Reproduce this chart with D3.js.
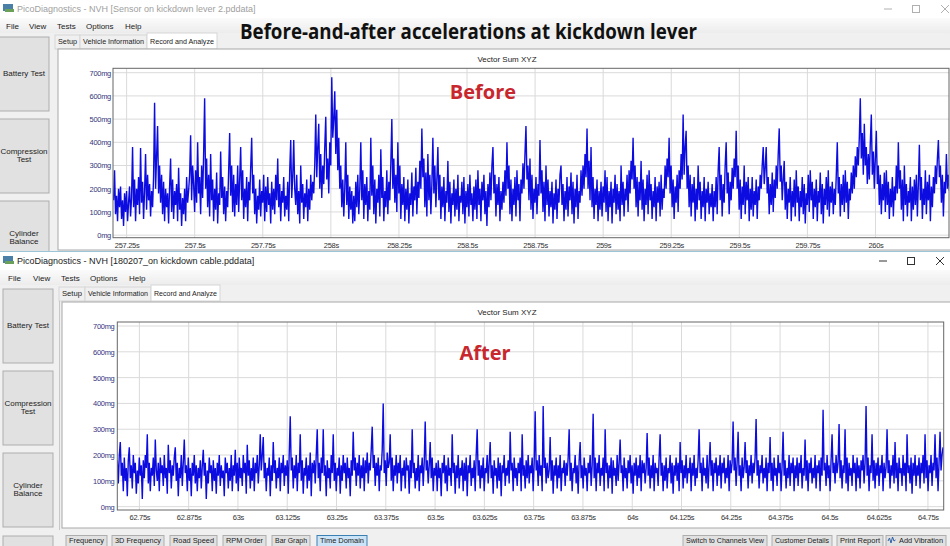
<!DOCTYPE html>
<html>
<head>
<meta charset="utf-8">
<script src="https://d3js.org/d3.v7.min.js"></script>
<style>
  body { margin: 0; background: #f0f0f0; }
  svg { display: block; font-family: "Liberation Sans", Arial, sans-serif; }
  .ui { font-size: 8px; fill: #222; }
  .axis path, .axis line { display: none; }
</style>
</head>
<body>
<script>

// ---- data -------------------------------------------------------------
var yTicks = [0, 100, 200, 300, 400, 500, 600, 700];

// "before" trace, one reading per screen pixel
var beforeTicks = [257.25, 257.5, 257.75, 258, 258.25, 258.5, 258.75, 259, 259.25, 259.5, 259.75, 260];
var beforeStart = 257.202;   // first sample time (s)
var beforeStep = 0.003676;   // sample spacing (s)
var beforeValues = [
  150, 280, 90, 170, 60, 200, 120, 210, 70, 150, 40, 180, 100, 190, 60, 140, 210, 80, 160, 380, 120, 240, 60, 200, 130, 250, 90, 375, 140, 230, 70, 190, 350, 110, 260, 150, 220, 80, 190, 120,
  250, 570, 200, 340, 470, 180, 300, 140, 260, 90, 230, 60, 200, 120, 180, 50, 210, 330, 100, 240, 70, 190, 130, 220, 60, 290, 110, 180, 40, 160, 90, 200, 60, 250, 140, 190, 260, 430, 150, 300,
  220, 100, 280, 140, 400, 180, 250, 90, 300, 160, 350, 590, 200, 330, 120, 260, 80, 350, 150, 240, 60, 200, 110, 270, 50, 180, 130, 360, 160, 250, 90, 210, 60, 190, 120, 280, 440, 170, 300, 100,
  260, 80, 220, 130, 300, 100, 240, 380, 150, 280, 70, 200, 120, 250, 60, 230, 150, 290, 420, 180, 260, 90, 200, 50, 170, 110, 240, 80, 190, 140, 260, 60, 210, 100, 250, 130, 180, 50, 230, 110,
  200, 90, 260, 150, 330, 120, 220, 60, 190, 140, 250, 80, 170, 110, 230, 60, 280, 410, 160, 250, 410, 200, 130, 260, 90, 190, 50, 300, 140, 220, 70, 180, 120, 240, 60, 200, 110, 260, 150, 230,
  180, 300, 520, 250, 380, 480, 200, 350, 160, 300, 220, 380, 510, 240, 330, 180, 400, 300, 680, 420, 500, 620, 350, 540, 280, 420, 200, 300, 120, 240, 80, 200, 400, 130, 260, 70, 210, 110, 190, 50,
  170, 60, 230, 120, 260, 90, 200, 400, 150, 280, 70, 220, 130, 250, 60, 190, 110, 420, 170, 300, 90, 240, 50, 200, 140, 260, 80, 370, 160, 250, 60, 190, 120, 280, 90, 230, 150, 310, 500, 200,
  330, 140, 260, 100, 400, 180, 300, 70, 220, 130, 250, 60, 200, 110, 240, 50, 180, 130, 270, 80, 210, 150, 290, 90, 230, 160, 320, 200, 460, 250, 330, 120, 270, 80, 350, 150, 260, 90, 220, 420,
  180, 300, 120, 240, 380, 150, 260, 70, 210, 120, 250, 60, 190, 140, 320, 100, 230, 50, 180, 130, 240, 80, 200, 110, 260, 60, 170, 140, 230, 90, 250, 50, 190, 120, 220, 80, 260, 130, 180, 60,
  210, 110, 240, 70, 280, 130, 200, 60, 230, 150, 260, 90, 190, 40, 220, 120, 270, 150, 300, 380, 180, 260, 80, 220, 130, 250, 60, 190, 110, 230, 140, 280, 170, 400, 200, 300, 90, 240, 60, 200,
  130, 250, 80, 280, 150, 220, 60, 240, 180, 310, 200, 350, 470, 240, 300, 150, 330, 110, 260, 70, 200, 140, 250, 90, 220, 170, 410, 180, 280, 100, 230, 60, 300, 130, 240, 80, 190, 120, 230, 50,
  180, 110, 240, 70, 200, 140, 260, 300, 130, 220, 60, 190, 110, 250, 80, 210, 150, 270, 90, 230, 50, 200, 120, 260, 70, 190, 140, 280, 170, 300, 200, 350, 250, 460, 200, 320, 150, 380, 120, 250,
  70, 200, 130, 240, 60, 190, 110, 230, 80, 210, 140, 280, 100, 250, 60, 190, 120, 230, 50, 200, 140, 260, 90, 220, 110, 190, 60, 300, 130, 230, 80, 200, 150, 260, 100, 280, 180, 320, 240, 420,
  200, 300, 120, 250, 80, 230, 150, 320, 110, 240, 60, 200, 130, 260, 90, 280, 150, 220, 70, 190, 120, 250, 60, 210, 140, 230, 80, 260, 110, 200, 160, 300, 200, 330, 250, 420, 180, 300, 120, 240,
  70, 210, 140, 260, 100, 280, 200, 350, 240, 520, 260, 380, 450, 200, 300, 120, 260, 80, 220, 140, 250, 60, 200, 110, 300, 150, 230, 70, 190, 120, 250, 60, 200, 140, 230, 90, 180, 120, 220, 60,
  190, 120, 250, 90, 280, 380, 150, 260, 80, 220, 140, 300, 400, 180, 270, 90, 230, 150, 290, 200, 330, 250, 450, 200, 300, 110, 240, 70, 210, 130, 300, 90, 230, 150, 250, 60, 200, 110, 250, 80,
  190, 130, 240, 70, 210, 150, 260, 200, 300, 380, 220, 290, 380, 180, 250, 90, 220, 130, 270, 100, 240, 160, 300, 200, 350, 460, 230, 300, 150, 240, 320, 110, 230, 70, 200, 140, 250, 60, 190, 120,
  240, 80, 280, 140, 210, 60, 190, 120, 250, 90, 220, 50, 180, 130, 260, 100, 280, 150, 230, 70, 200, 120, 240, 60, 190, 140, 270, 90, 220, 50, 200, 130, 250, 110, 280, 80, 210, 140, 230, 90,
  200, 130, 260, 400, 180, 250, 80, 220, 130, 260, 100, 280, 140, 230, 70, 200, 150, 270, 180, 300, 200, 340, 250, 380, 300, 420, 590, 330, 440, 260, 480, 300, 380, 220, 350, 240, 400, 520, 260, 360,
  200, 330, 450, 220, 300, 130, 260, 90, 220, 150, 270, 100, 280, 130, 230, 70, 200, 120, 250, 80, 210, 150, 300, 180, 400, 200, 280, 110, 240, 60, 300, 130, 220, 80, 190, 140, 250, 60, 210, 110,
  240, 130, 260, 80, 220, 390, 150, 250, 70, 200, 130, 280, 90, 230, 150, 260, 60, 210, 120, 250, 180, 300, 220, 330, 410, 250, 300, 140, 260, 80, 230, 180, 350, 200, 260, 190
];

// "after" trace, one reading per screen pixel
var afterTicks = [62.75, 62.875, 63, 63.125, 63.25, 63.375, 63.5, 63.625, 63.75, 63.875, 64, 64.125, 64.25, 64.375, 64.5, 64.625, 64.75];
var afterStart = 62.694;
var afterStep = 0.0025355;
var afterValues = [
  180, 90, 200, 250, 120, 170, 60, 190, 100, 150, 40, 180, 230, 110, 160, 70, 200, 130, 170, 50, 140, 90, 190, 120, 160, 30, 180, 110, 200, 150, 280, 90, 170, 60, 150, 120, 190, 80, 260, 140,
  100, 170, 60, 190, 130, 160, 80, 200, 110, 150, 50, 240, 130, 180, 70, 160, 120, 190, 230, 100, 170, 40, 150, 110, 200, 80, 170, 260, 130, 160, 60, 190, 100, 150, 40, 170, 120, 200, 90, 160,
  60, 150, 110, 180, 70, 160, 220, 120, 170, 30, 140, 90, 190, 130, 160, 60, 180, 100, 150, 50, 170, 120, 200, 80, 160, 110, 140, 40, 190, 130, 170, 70, 150, 100, 200, 60, 160, 120, 220, 90,
  170, 60, 190, 110, 150, 80, 200, 130, 170, 50, 240, 120, 180, 70, 150, 100, 190, 60, 170, 130, 200, 90, 160, 280, 140, 200, 270, 110, 170, 60, 150, 120, 190, 40, 160, 100, 250, 130, 180, 70,
  150, 110, 190, 60, 170, 130, 200, 80, 160, 120, 180, 50, 210, 350, 140, 190, 70, 160, 110, 200, 60, 170, 130, 280, 100, 180, 50, 150, 120, 190, 70, 160, 100, 210, 40, 170, 130, 180, 90, 200,
  300, 110, 170, 60, 190, 130, 300, 120, 160, 40, 180, 110, 150, 70, 200, 130, 280, 100, 170, 60, 150, 120, 190, 50, 160, 100, 200, 130, 170, 70, 190, 110, 150, 40, 180, 120, 290, 140, 190, 80,
  170, 120, 200, 70, 160, 110, 190, 60, 180, 130, 210, 90, 170, 140, 220, 310, 150, 200, 80, 170, 120, 190, 60, 160, 140, 220, 400, 130, 180, 80, 210, 150, 170, 280, 100, 190, 60, 160, 120, 200,
  90, 170, 130, 200, 60, 150, 120, 180, 70, 190, 140, 160, 50, 180, 110, 300, 130, 170, 70, 150, 100, 200, 60, 160, 130, 190, 80, 170, 330, 140, 180, 90, 160, 250, 110, 190, 60, 150, 120, 170,
  60, 180, 110, 150, 40, 170, 130, 200, 90, 160, 60, 190, 120, 150, 80, 280, 130, 170, 50, 160, 110, 200, 70, 150, 120, 180, 60, 170, 100, 190, 40, 160, 130, 200, 80, 150, 110, 180, 60, 200,
  300, 120, 180, 70, 160, 110, 190, 60, 150, 130, 200, 90, 170, 250, 110, 160, 50, 180, 120, 150, 70, 190, 100, 170, 40, 160, 130, 200, 80, 150, 120, 180, 90, 290, 140, 170, 60, 190, 110, 150,
  80, 170, 130, 190, 60, 280, 120, 160, 70, 180, 110, 200, 90, 160, 130, 190, 60, 170, 370, 140, 180, 80, 200, 120, 160, 60, 390, 150, 190, 90, 170, 110, 140, 270, 100, 180, 50, 160, 120, 190,
  70, 160, 110, 200, 60, 150, 130, 180, 80, 170, 120, 190, 300, 100, 170, 60, 150, 130, 200, 90, 160, 50, 180, 250, 110, 160, 70, 190, 120, 150, 60, 170, 130, 200, 80, 160, 360, 110, 190, 60,
  170, 130, 200, 80, 150, 120, 190, 60, 300, 130, 170, 70, 160, 110, 190, 50, 180, 120, 150, 80, 200, 100, 170, 260, 130, 160, 60, 190, 110, 150, 70, 180, 130, 200, 90, 160, 50, 170, 120, 190,
  80, 160, 110, 200, 60, 180, 130, 170, 90, 150, 285, 120, 190, 70, 160, 110, 200, 60, 170, 130, 150, 80, 190, 280, 120, 170, 60, 160, 100, 190, 70, 150, 130, 200, 90, 170, 50, 160, 120, 190,
  100, 170, 60, 250, 130, 180, 70, 160, 110, 200, 90, 150, 130, 190, 60, 170, 120, 200, 80, 150, 110, 180, 300, 130, 170, 60, 190, 120, 150, 90, 200, 70, 160, 250, 120, 180, 60, 170, 130, 190,
  80, 160, 120, 200, 70, 170, 130, 190, 90, 150, 110, 200, 60, 180, 130, 170, 330, 140, 190, 80, 170, 290, 120, 160, 60, 190, 110, 150, 250, 130, 180, 70, 160, 120, 200, 90, 170, 130, 190, 340,
  120, 180, 70, 160, 130, 200, 90, 150, 110, 190, 60, 170, 130, 270, 100, 170, 60, 190, 120, 150, 80, 200, 130, 170, 60, 160, 290, 120, 180, 70, 150, 110, 200, 80, 170, 130, 190, 60, 160, 110,
  190, 80, 170, 130, 200, 70, 150, 120, 260, 100, 180, 60, 170, 130, 190, 90, 150, 110, 200, 70, 160, 130, 180, 60, 190, 120, 375, 140, 170, 80, 200, 110, 160, 60, 180, 280, 130, 170, 90, 200,
  130, 170, 320, 110, 180, 70, 160, 130, 300, 90, 190, 60, 170, 120, 150, 80, 200, 130, 170, 60, 190, 110, 160, 70, 180, 140, 200, 90, 170, 390, 120, 190, 60, 160, 130, 280, 100, 180, 70, 170,
  120, 190, 80, 160, 130, 200, 60, 170, 110, 150, 300, 130, 180, 70, 160, 120, 200, 90, 250, 110, 170, 60, 190, 130, 150, 80, 200, 120, 170, 60, 280, 130, 160, 90, 190, 50, 170, 120, 200, 80,
  160, 120, 190, 70, 170, 130, 200, 90, 280, 110, 180, 60, 160, 130, 200, 80, 170, 140, 280, 110, 190, 60, 170, 290, 140, 200, 230
];

var sideButtons = [["Battery Test"], ["Compression", "Test"], ["Cylinder", "Balance"], [""]];
var menuItems = ["File", "View", "Tests", "Options", "Help"];
var tabNames = ["Setup", "Vehicle Information", "Record and Analyze"];
var leftTools = ["Frequency", "3D Frequency", "Road Speed", "RPM Order", "Bar Graph", "Time Domain"];
var rightTools = ["Switch to Channels View", "Customer Details", "Print Report", "Add Vibration"];

// -----------------------------------------------------------------------
var W = 950, H = 546;
var svg = d3.select("body").append("svg").attr("width", W).attr("height", H);
svg.append("rect").attr("width", W).attr("height", H).attr("fill", "#f0f0f0");

var defs = svg.append("defs");
var grad = defs.append("linearGradient").attr("id", "menuGrad").attr("x1", 0).attr("x2", 0).attr("y1", 0).attr("y2", 1);
grad.append("stop").attr("offset", "0%").attr("stop-color", "#fbfbfb");
grad.append("stop").attr("offset", "100%").attr("stop-color", "#ececec");

// small helper: label squeezed to fit a given width
function fitText(g, txt, cx, y, w, size) {
  var t = g.append("text").attr("class", "ui").attr("font-size", size).attr("text-anchor", "middle")
    .attr("x", cx).attr("y", y).text(txt);
  if (t.node().getComputedTextLength() > w) t.attr("textLength", w).attr("lengthAdjust", "spacingAndGlyphs");
  return t;
}

function windowChrome(y0, title, active, menuXs, tabXs, btnX) {
  var g = svg.append("g").attr("transform", "translate(0," + y0 + ")");
  g.append("rect").attr("width", W).attr("height", 18).attr("fill", "#fff");
  // app icon
  g.append("rect").attr("x", 3).attr("y", 4).attr("width", 10).attr("height", 7).attr("fill", "#4a7fa8");
  g.append("rect").attr("x", 5).attr("y", 9).attr("width", 9).attr("height", 3).attr("fill", "#6aa05a");
  g.append("text").attr("x", 17).attr("y", 12).attr("font-size", 9)
    .attr("fill", active ? "#222" : "#a0a0a0").text(title);
  // window buttons
  var c = active ? "#333" : "#b0b0b0";
  var bx = active ? [883, 911, 940] : [888, 916, 945];
  g.append("line").attr("x1", bx[0] - 4).attr("x2", bx[0] + 4).attr("y1", 9).attr("y2", 9).attr("stroke", c);
  g.append("rect").attr("x", bx[1] - 3.5).attr("y", 5.5).attr("width", 7).attr("height", 7).attr("fill", "none").attr("stroke", c);
  g.append("path").attr("d", "M" + (bx[2] - 4) + ",5 L" + (bx[2] + 4) + ",13 M" + (bx[2] + 4) + ",5 L" + (bx[2] - 4) + ",13")
    .attr("stroke", c).attr("fill", "none");

  g.append("rect").attr("y", 18).attr("width", W).attr("height", 15).attr("fill", "url(#menuGrad)");
  menuItems.forEach(function (m, i) {
    g.append("text").attr("class", "ui").attr("x", menuXs[i]).attr("y", 29).attr("font-size", 8.5).text(m);
  });

  // tabs
  tabNames.forEach(function (t, i) {
    var act = i === 2;
    g.append("rect").attr("x", tabXs[i][0]).attr("y", act ? 33 : 35)
      .attr("width", tabXs[i][1] - tabXs[i][0]).attr("height", act ? 16 : 14)
      .attr("fill", act ? "#fff" : "#f0f0f0").attr("stroke", "#d6d6d6");
    fitText(g, t, (tabXs[i][0] + tabXs[i][1]) / 2, 44, tabXs[i][1] - tabXs[i][0] - 6, 7.5);
  });

  // side buttons
  var tops = [37, 119, 201, 284];
  sideButtons.forEach(function (b, i) {
    g.append("rect").attr("x", btnX).attr("y", tops[i]).attr("width", 50).attr("height", 74)
      .attr("fill", "#e1e1e1").attr("stroke", "#adadad");
    b.forEach(function (line, j) {
      g.append("text").attr("class", "ui").attr("font-size", 7.5).attr("text-anchor", "middle")
        .attr("x", btnX + 25).attr("y", tops[i] + 39 + (j - (b.length - 1) / 2) * 8).text(line);
    });
  });
  return g;
}

function drawChart(cfg) {
  var g = svg.append("g");
  // panel
  g.append("rect").attr("x", cfg.panel[0]).attr("y", cfg.panel[1]).attr("width", cfg.panel[2] - cfg.panel[0])
    .attr("height", cfg.panel[3] - cfg.panel[1]).attr("fill", "#fff").attr("stroke", "#a8a8a8");
  g.append("text").attr("class", "ui").attr("font-size", 8).attr("fill", "#444")
    .attr("x", 507).attr("y", cfg.titleY).attr("text-anchor", "middle").text("Vector Sum XYZ");

  var x = d3.scaleLinear().domain(cfg.xDomain).range([cfg.left, cfg.right]);
  var y = d3.scaleLinear().domain(cfg.yDomain).range([cfg.bottom, cfg.top]);

  // grid
  g.append("g").selectAll("line").data(cfg.xTicks).join("line")
    .attr("x1", function (d) { return x(d); }).attr("x2", function (d) { return x(d); })
    .attr("y1", cfg.top).attr("y2", cfg.bottom).attr("stroke", "#dadada");
  g.append("g").selectAll("line").data(yTicks).join("line")
    .attr("x1", cfg.left).attr("x2", cfg.right)
    .attr("y1", function (d) { return y(d); }).attr("y2", function (d) { return y(d); }).attr("stroke", "#dadada");

  // big annotation
  g.append("text").attr("x", cfg.noteX).attr("y", cfg.noteY).attr("text-anchor", "middle")
    .attr("font-family", "'Open Sans', sans-serif").attr("font-weight", "bold").attr("font-size", 20)
    .attr("fill", "#c8272d").text(cfg.note);

  // trace
  var clipId = "clip" + cfg.note;
  defs.append("clipPath").attr("id", clipId).append("rect")
    .attr("x", cfg.left).attr("y", cfg.top).attr("width", cfg.right - cfg.left).attr("height", cfg.bottom - cfg.top);
  var line = d3.line()
    .x(function (d, i) { return x(cfg.start + i * cfg.step); })
    .y(function (d) { return y(d); });
  g.append("path").datum(cfg.values).attr("clip-path", "url(#" + clipId + ")")
    .attr("d", line).attr("fill", "none").attr("stroke", "#0c0ce0").attr("stroke-width", 1.4)
    .attr("stroke-linejoin", "bevel");

  g.append("rect").attr("x", cfg.left).attr("y", cfg.top).attr("width", cfg.right - cfg.left)
    .attr("height", cfg.bottom - cfg.top).attr("fill", "none").attr("stroke", "#666");

  // axes
  var xa = g.append("g").attr("class", "axis").attr("transform", "translate(0," + (cfg.bottom + 2) + ")")
    .call(d3.axisBottom(x).tickValues(cfg.xTicks).tickSize(0).tickFormat(function (d) { return d + "s"; }));
  xa.selectAll("text").attr("font-size", 7.5).attr("fill", "#333").attr("letter-spacing", -0.3)
    .attr("font-family", "'Liberation Sans', Arial, sans-serif");
  var ya = g.append("g").attr("class", "axis").attr("transform", "translate(" + cfg.yLabelX + ",0)")
    .call(d3.axisLeft(y).tickValues(yTicks).tickSize(0).tickPadding(0).tickFormat(function (d) { return d + "mg"; }));
  ya.selectAll("text").attr("font-size", 7.5).attr("fill", "#35357e").attr("letter-spacing", -0.3)
    .attr("font-family", "'Liberation Sans', Arial, sans-serif");
}

// ---- top window (before) ----
windowChrome(0, "PicoDiagnostics - NVH [Sensor on kickdown lever 2.pddata]", false,
  [6, 29, 57, 86, 125], [[55, 80], [80, 147], [147, 217]], -1);

drawChart({
  panel: [58, 49, 951, 250], titleY: 62,
  left: 113, right: 949, top: 68.3, bottom: 237.7,
  xDomain: [257.2, 260.27], yDomain: [-11, 719],
  xTicks: beforeTicks, start: beforeStart, step: beforeStep, values: beforeValues,
  yLabelX: 111, note: "Before", noteX: 483, noteY: 99
});

svg.append("text").attr("x", 240).attr("y", 39).attr("textLength", 457).attr("lengthAdjust", "spacingAndGlyphs")
  .attr("font-family", "'Open Sans', sans-serif").attr("font-weight", "bold").attr("font-size", 21)
  .attr("fill", "#111").text("Before-and-after accelerations at kickdown lever");

// ---- bottom window (after) ----
svg.append("rect").attr("x", 0).attr("y", 251).attr("width", W).attr("height", H - 251).attr("fill", "#f0f0f0");
svg.append("line").attr("x1", 0).attr("x2", W).attr("y1", 251.5).attr("y2", 251.5).attr("stroke", "#9cc6d8");
windowChrome(252, "PicoDiagnostics - NVH [180207_on kickdown cable.pddata]", true,
  [8, 33, 61, 90, 129], [[59, 85], [85, 151], [151, 220]], 3);

svg.append("line").attr("x1", 59.5).attr("x2", 59.5).attr("y1", 301).attr("y2", 530).attr("stroke", "#c8c8c8");
drawChart({
  panel: [62, 302, 951, 528], titleY: 315,
  left: 117.3, right: 943.7, top: 322, bottom: 510,
  xDomain: [62.694, 64.79], yDomain: [-13, 715.5],
  xTicks: afterTicks, start: afterStart, step: afterStep, values: afterValues,
  yLabelX: 114.5, note: "After", noteX: 485, noteY: 360
});

// ---- bottom toolbar ----
var leftX = [[66, 107], [112, 164], [170, 217], [223, 266], [272, 310], [317, 367]];
var rightX = [[683, 767], [772, 832], [837, 883], [886, 946]];
function toolButton(name, r, hot) {
  svg.append("rect").attr("x", r[0]).attr("y", 535.5).attr("width", r[1] - r[0]).attr("height", 14)
    .attr("fill", hot ? "#cce4f7" : "#e1e1e1").attr("stroke", hot ? "#3c7fb1" : "#adadad");
  var icon = name === "Add Vibration" ? 10 : 0;
  fitText(svg, name, (r[0] + r[1]) / 2 + icon / 2, 543, r[1] - r[0] - 6 - icon, 7.5);
}
leftTools.forEach(function (n, i) { toolButton(n, leftX[i], n === "Time Domain"); });
rightTools.forEach(function (n, i) { toolButton(n, rightX[i], false); });
svg.append("path").attr("d", "M888,541 l1.5,-3 l1.5,5 l1.5,-6 l1.5,4 l1.5,-1").attr("fill", "none").attr("stroke", "#2d5fa6");

</script>
</body>
</html>
